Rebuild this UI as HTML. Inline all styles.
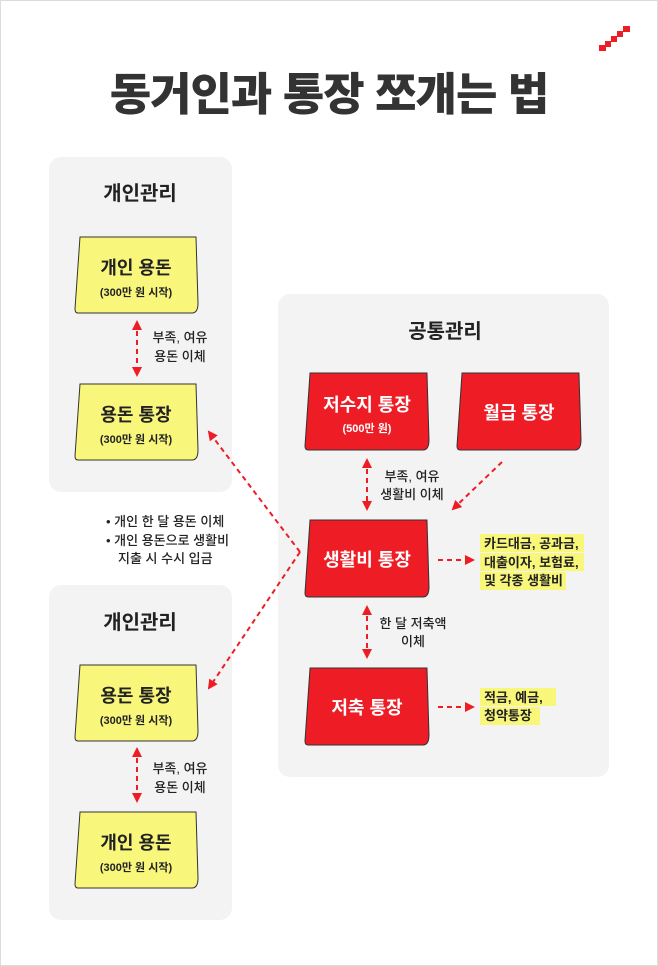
<!DOCTYPE html>
<html><head><meta charset="utf-8"><style>
html,body{margin:0;padding:0;background:#fff}
svg{display:block}
text{font-family:"Liberation Sans","Noto Sans CJK KR",sans-serif}
</style></head><body>
<svg width="658" height="966" viewBox="0 0 658 966" xmlns="http://www.w3.org/2000/svg">
<defs>
<marker id="ah" viewBox="0 0 10 10" refX="8" refY="5" markerWidth="5" markerHeight="5" orient="auto-start-reverse"><path d="M0 0 L10 5 L0 10 Z" fill="#ee1c25"/></marker>
<path id="note" d="M5 0 L121 0 L123 66 Q123 76 117 76 L3 76 Q0 76 0 72 Z"/>
</defs>
<rect x="0.5" y="0.5" width="657" height="965" fill="#fff" stroke="#dcdcdc"/>
<g fill="#ee1c25"><rect x="599" y="45" width="7" height="6"/><rect x="605" y="41" width="6" height="6"/><rect x="611" y="36" width="6" height="6"/><rect x="617" y="31" width="6" height="6"/><rect x="623" y="26" width="7" height="6"/></g>
<text x="329" y="110" text-anchor="middle" font-size="45" font-weight="900" fill="#333" letter-spacing="-1">동거인과 통장 쪼개는 법</text>

<rect x="49" y="157" width="183" height="335" rx="12" fill="#f3f3f3"/>
<rect x="49" y="585" width="183" height="335" rx="12" fill="#f3f3f3"/>
<rect x="278" y="294" width="331" height="483" rx="12" fill="#f3f3f3"/>
<g font-weight="700" fill="#222" font-size="20" text-anchor="middle">
<text x="140" y="200">개인관리</text>
<text x="140" y="629">개인관리</text>
<text x="445" y="338">공통관리</text>
</g>

<g fill="#f9f77b" stroke="#333" stroke-width="1">
<use href="#note" transform="translate(75,237)"/>
<use href="#note" transform="translate(75,384)"/>
<use href="#note" transform="translate(75,665)"/>
<use href="#note" transform="translate(75,812)"/>
</g>
<g fill="#ee1c25" stroke="#333" stroke-width="1">
<use href="#note" transform="translate(305,373) scale(1.008,1.013)"/>
<use href="#note" transform="translate(457,373) scale(1.008,1.013)"/>
<use href="#note" transform="translate(305,520) scale(1.008,1.013)"/>
<use href="#note" transform="translate(305,668) scale(1.008,1.013)"/>
</g>
<g fill="#222" text-anchor="middle">
<text x="136" y="274" font-size="18" font-weight="700">개인 용돈</text>
<text x="136" y="296" font-size="11" font-weight="600">(300만 원 시작)</text>
<text x="136" y="421" font-size="18" font-weight="700">용돈 통장</text>
<text x="136" y="443" font-size="11" font-weight="600">(300만 원 시작)</text>
<text x="136" y="702" font-size="18" font-weight="700">용돈 통장</text>
<text x="136" y="724" font-size="11" font-weight="600">(300만 원 시작)</text>
<text x="136" y="849" font-size="18" font-weight="700">개인 용돈</text>
<text x="136" y="871" font-size="11" font-weight="600">(300만 원 시작)</text>
</g>
<g fill="#fff" text-anchor="middle">
<text x="367" y="411" font-size="18" font-weight="700">저수지 통장</text>
<text x="367" y="432" font-size="11" font-weight="600">(500만 원)</text>
<text x="519" y="419" font-size="18" font-weight="700">월급 통장</text>
<text x="367" y="566" font-size="18" font-weight="700">생활비 통장</text>
<text x="367" y="714" font-size="18" font-weight="700">저축 통장</text>
</g>

<g stroke="#ee1c25" stroke-width="2" stroke-dasharray="5 4" fill="none" marker-start="url(#ah)" marker-end="url(#ah)">
<line x1="137" y1="322" x2="137" y2="375"/>
<line x1="137" y1="749" x2="137" y2="801"/>
<line x1="367" y1="460" x2="367" y2="509"/>
<line x1="367" y1="607" x2="367" y2="657"/>
</g>
<g stroke="#ee1c25" stroke-width="2" stroke-dasharray="5 4" fill="none" marker-end="url(#ah)">
<line x1="502" y1="462" x2="453" y2="509"/>
<line x1="438" y1="560" x2="473" y2="560"/>
<line x1="438" y1="707" x2="473" y2="707"/>
<polyline points="300,552 209,432"/>
<polyline points="300,552 209,688"/>
</g>

<g fill="#222" font-size="13" font-weight="500" text-anchor="middle">
<text x="180" y="342">부족, 여유</text>
<text x="180" y="361">용돈 이체</text>
<text x="180" y="773">부족, 여유</text>
<text x="180" y="792">용돈 이체</text>
<text x="412" y="481">부족, 여유</text>
<text x="412" y="499">생활비 이체</text>
<text x="413" y="628">한 달 저축액</text>
<text x="413" y="646">이체</text>
</g>
<g fill="#222" font-size="13" font-weight="500">
<text x="106" y="526">•  개인 한 달 용돈 이체</text>
<text x="106" y="545">•  개인 용돈으로 생활비</text>
<text x="118" y="563">지출 시 수시 입금</text>
</g>
<g fill="#f8f77a">
<rect x="480" y="534" width="104" height="18"/>
<rect x="480" y="553" width="104" height="18"/>
<rect x="480" y="572" width="86" height="18"/>
<rect x="480" y="688" width="76" height="18"/>
<rect x="480" y="707" width="60" height="18"/>
</g>
<g fill="#222" font-size="13" font-weight="600">
<text x="484" y="548">카드대금, 공과금,</text>
<text x="484" y="567">대출이자, 보험료,</text>
<text x="484" y="585">및 각종 생활비</text>
<text x="484" y="702">적금, 예금,</text>
<text x="484" y="720">청약통장</text>
</g>
</svg>
</body></html>
